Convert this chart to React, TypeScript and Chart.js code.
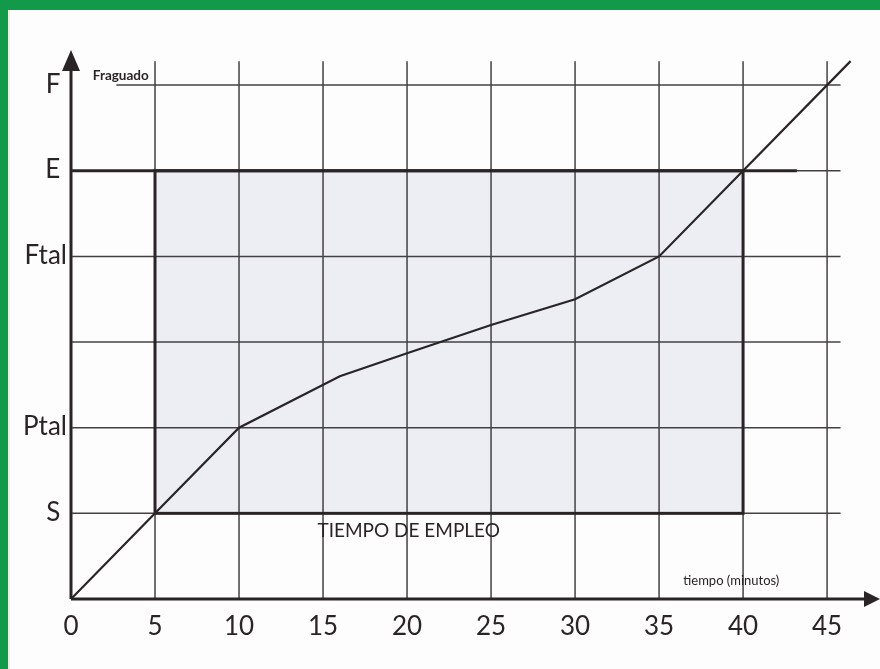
import React, { useEffect, useRef } from "react";
import { Chart, registerables } from "chart.js";

Chart.register(...registerables);

// ---- data ----
const X_TICKS = [0, 5, 10, 15, 20, 25, 30, 35, 40, 45];
const Y_TICKS = [0, 1, 2, 3, 4, 5, 6];
const Y_LABELS = ["", "S ", "Ptal", "", "Ftal", "E ", "F "];
const CURVE_X = [0, 5, 10, 16, 20, 25, 30, 35, 40, 46.4];
const CURVE_Y = [0, 1, 2, 2.6, 2.87, 3.2, 3.5, 4, 5, 6.28];
const EMPLEO_X = [5, 40];
const EMPLEO_Y = [1, 5];
const GRID_X_END = 45.8;
const GRID_Y_END = 6.28;
const FRAGUADO_X_START = 2.7;
const E_THICK_END = 43.2;
const X_MAX = 48.15;
const Y_MAX = 6.41;

const FONT = "Lato, 'Noto Sans', sans-serif";
const INK = "#2b2427";
const GRID = "#444042";

export default function App() {
  const ref = useRef<HTMLCanvasElement | null>(null);

  useEffect(() => {
    const canvas = ref.current;
    if (!canvas) return;

    const decor = {
      id: "decor",
      beforeDraw(chart: any) {
        const c = chart.ctx;
        c.save();
        c.fillStyle = "#fdfdfd";
        c.fillRect(0, 0, chart.width, chart.height);
        c.fillStyle = "#12994a";
        c.fillRect(0, 0, chart.width, 10);
        c.fillRect(0, 0, 8, chart.height);
        c.fillStyle = "#eef0e0";
        c.fillRect(8, 10, 2, chart.height - 10);
        c.restore();
      },
      beforeDatasetsDraw(chart: any) {
        const c = chart.ctx;
        const xs = chart.scales.x;
        const ys = chart.scales.y;
        const px = (v: number) => xs.getPixelForValue(v);
        const py = (v: number) => ys.getPixelForValue(v);
        c.save();
        // rectangle fill
        c.fillStyle = "#eceef4";
        c.fillRect(px(EMPLEO_X[0]), py(EMPLEO_Y[1]), px(EMPLEO_X[1]) - px(EMPLEO_X[0]), py(EMPLEO_Y[0]) - py(EMPLEO_Y[1]));
        // grid
        c.strokeStyle = GRID;
        c.lineWidth = 1.5;
        for (const v of X_TICKS) {
          if (v === 0) continue;
          c.beginPath();
          c.moveTo(px(v), py(0));
          c.lineTo(px(v), py(GRID_Y_END));
          c.stroke();
        }
        for (const v of Y_TICKS) {
          if (v === 0) continue;
          c.beginPath();
          c.moveTo(px(v === 6 ? FRAGUADO_X_START : 0), py(v));
          c.lineTo(px(GRID_X_END), py(v));
          c.stroke();
        }
        // thick rectangle and E line
        c.strokeStyle = INK;
        c.lineWidth = 3;
        c.beginPath();
        c.moveTo(px(0), py(EMPLEO_Y[1]));
        c.lineTo(px(E_THICK_END), py(EMPLEO_Y[1]));
        c.stroke();
        c.strokeRect(px(EMPLEO_X[0]), py(EMPLEO_Y[1]), px(EMPLEO_X[1]) - px(EMPLEO_X[0]), py(EMPLEO_Y[0]) - py(EMPLEO_Y[1]));
        // axes
        c.lineWidth = 3;
        c.beginPath();
        c.moveTo(px(0), py(0));
        c.lineTo(px(0), py(Y_MAX) + 18);
        c.moveTo(px(0), py(0));
        c.lineTo(px(X_MAX) - 14, py(0));
        c.stroke();
        c.fillStyle = INK;
        c.beginPath();
        c.moveTo(px(0), py(Y_MAX));
        c.lineTo(px(0) - 9, py(Y_MAX) + 21);
        c.lineTo(px(0) + 9, py(Y_MAX) + 21);
        c.closePath();
        c.fill();
        c.beginPath();
        c.moveTo(px(X_MAX), py(0));
        c.lineTo(px(X_MAX) - 16, py(0) - 8);
        c.lineTo(px(X_MAX) - 16, py(0) + 8);
        c.closePath();
        c.fill();
        c.restore();
      },
      afterDraw(chart: any) {
        const c = chart.ctx;
        const xs = chart.scales.x;
        const ys = chart.scales.y;
        c.save();
        c.fillStyle = INK;
        c.textBaseline = "alphabetic";
        c.font = `bold 13.5px ${FONT}`;
        c.textAlign = "left";
        c.fillText("Fraguado", xs.getPixelForValue(1.3), ys.getPixelForValue(6.06));
        c.font = `13px ${FONT}`;
        c.textAlign = "center";
        c.fillText("tiempo (minutos)", xs.getPixelForValue(39.3), ys.getPixelForValue(0.16));
        c.font = `19px ${FONT}`;
        c.fillText("TIEMPO DE EMPLEO", xs.getPixelForValue(20.1), ys.getPixelForValue(0.72));
        c.restore();
      },
    };

    const chart = new Chart(canvas, {
      type: "scatter",
      data: {
        datasets: [
          {
            data: CURVE_X.map((x, i) => ({ x, y: CURVE_Y[i] })),
            showLine: true,
            borderColor: INK,
            borderWidth: 2.2,
            pointRadius: 0,
            tension: 0,
          },
        ],
      },
      options: {
        responsive: false,
        animation: false,
        layout: { padding: { top: 50, left: 0, right: 0, bottom: 0 } },
        plugins: { legend: { display: false }, tooltip: { enabled: false } },
        scales: {
          x: {
            type: "linear",
            min: 0,
            max: X_MAX,
            grid: { display: false, drawTicks: false },
            border: { display: false },
            afterBuildTicks: (s: any) => {
              s.ticks = X_TICKS.map((v) => ({ value: v }));
            },
            afterFit: (s: any) => {
              s.height = 70;
            },
            ticks: {
              autoSkip: false,
              maxRotation: 0,
              padding: 12,
              color: INK,
              font: { family: FONT, size: 26 },
              callback: (v: any) => String(v),
            },
          },
          y: {
            type: "linear",
            min: 0,
            max: Y_MAX,
            grid: { display: false, drawTicks: false },
            border: { display: false },
            afterBuildTicks: (s: any) => {
              s.ticks = Y_TICKS.map((v) => ({ value: v }));
            },
            afterFit: (s: any) => {
              s.width = 71;
            },
            ticks: {
              autoSkip: false,
              padding: 4,
              labelOffset: -1,
              color: INK,
              font: { family: FONT, size: 26 },
              callback: (v: any) => Y_LABELS[Y_TICKS.indexOf(Number(v))] ?? "",
            },
          },
        },
      },
      plugins: [decor],
    });
    return () => chart.destroy();
  }, []);

  return (
    <div style={{ position: "fixed", left: 0, top: 0, width: 880, height: 669 }}>
      <canvas ref={ref} width={880} height={669} style={{ width: 880, height: 669, display: "block" }} />
    </div>
  );
}
